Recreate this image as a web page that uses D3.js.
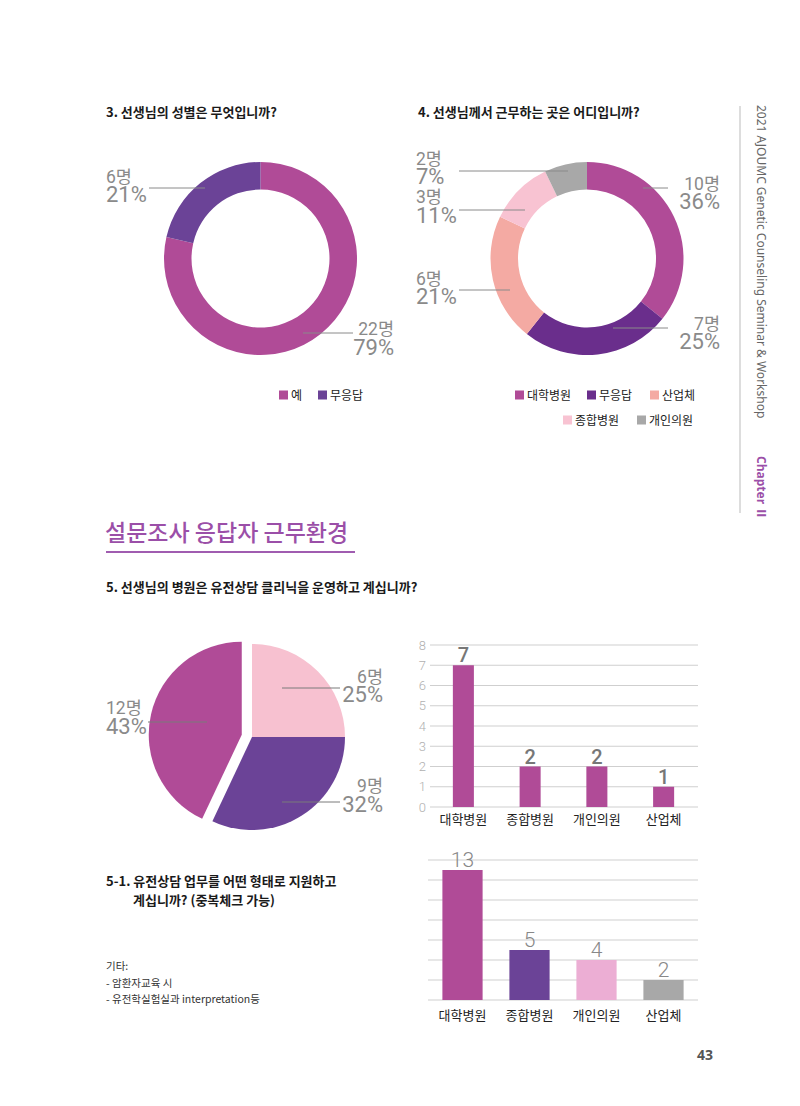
<!DOCTYPE html>
<html><head><meta charset="utf-8">
<script src="https://cdn.jsdelivr.net/npm/d3@7"></script>
<style>
html,body{margin:0;padding:0;background:#fff;}
svg{display:block;font-family:"Noto Sans CJK KR","Noto Sans",sans-serif;}
</style></head>
<body>
<svg id="page" width="800" height="1106"></svg>
<script>
// ---------- DATA ----------
const q3Categories = ["예", "무응답"];
const q3Counts = [22, 6];
const q3Pct = [79, 21];

const q4Categories = ["대학병원", "무응답", "산업체", "종합병원", "개인의원"];
const q4Counts = [10, 7, 6, 3, 2];
const q4Pct = [36, 25, 21, 11, 7];

const q5Slices = ["a", "b", "c"];
const q5Counts = [6, 9, 12];
const q5Pct = [25, 32, 43];

const bar1Categories = ["대학병원", "종합병원", "개인의원", "산업체"];
const bar1Values = [7, 2, 2, 1];
const bar1Ticks = [0, 1, 2, 3, 4, 5, 6, 7, 8];

const bar2Categories = ["대학병원", "종합병원", "개인의원", "산업체"];
const bar2Values = [13, 5, 4, 2];
const bar2Grid = [0, 2, 4, 6, 8, 10, 12, 14];

// ---------- STYLE ----------
const q3Colors = ["#b04b97", "#6b4397"];
const q4Colors = ["#b04b97", "#6a2e8c", "#f4aaa3", "#f8c3d2", "#a8a8a8"];
const q5Colors = ["#f7c1d0", "#6b4397", "#b04b97"];
const bar1Color = "#b04b97";
const bar2Colors = ["#b04b97", "#6b4397", "#ecaed4", "#a8a8a8"];
const labelGray = "#8a8a8a";
const numFont = "Roboto, 'Noto Sans CJK KR', sans-serif";

const svg = d3.select("#page");
svg.append("rect").attr("width", 800).attr("height", 1106).attr("fill", "#fff");

function text(x, y, s, opts = {}) {
  return svg.append("text").attr("x", x).attr("y", y).text(s)
    .attr("font-size", opts.size || 13)
    .attr("font-weight", opts.weight || 400)
    .attr("fill", opts.fill || "#222")
    .attr("text-anchor", opts.anchor || "start")
    .attr("font-family", opts.family || null);
}

// two-line slice label as one text element
function sliceLabel(L, count, pct) {
  const t = svg.append("text").attr("text-anchor", L.anchor)
    .attr("font-family", numFont).attr("font-weight", 400).attr("fill", labelGray);
  t.append("tspan").attr("x", L.x).attr("y", L.y1).attr("font-size", 17.5).text(count + "명");
  t.append("tspan").attr("x", L.x).attr("y", L.y2).attr("font-size", 22).text(pct + "%");
}

// ---------- TITLES ----------
text(106, 117, "3. 선생님의 성별은 무엇입니까?", {size: 13, weight: 700, fill: "#1a1a1a"});
text(418, 117, "4. 선생님께서 근무하는 곳은 어디입니까?", {size: 13, weight: 700, fill: "#1a1a1a"});

// ---------- DONUT helper ----------
function donut(cx, cy, counts, colors, layout, pct) {
  const pie = d3.pie().sort(null).value(d => d)(counts);
  const arc = d3.arc().innerRadius(69).outerRadius(96.5);
  const g = svg.append("g").attr("transform", `translate(${cx},${cy})`);
  g.selectAll("path").data(pie).join("path").attr("d", arc).attr("fill", (d, i) => colors[i]);
  layout.forEach(L => {
    svg.append("line").attr("x1", L.lx1).attr("x2", L.lx2).attr("y1", L.ly).attr("y2", L.ly)
      .attr("stroke", "#8a8a8a").attr("stroke-width", 1);
    sliceLabel(L, counts[L.i], pct[L.i]);
  });
}

donut(260.5, 258.5, q3Counts, q3Colors, [
  {i: 1, x: 106, anchor: "start", y1: 183, y2: 202, ly: 188, lx1: 149, lx2: 205},
  {i: 0, x: 394, anchor: "end", y1: 335, y2: 355, ly: 333, lx1: 303, lx2: 353}
], q3Pct);

donut(587, 258.5, q4Counts, q4Colors, [
  {i: 4, x: 416, anchor: "start", y1: 165, y2: 184, ly: 171, lx1: 459, lx2: 568},
  {i: 3, x: 416, anchor: "start", y1: 203, y2: 223, ly: 210, lx1: 459, lx2: 525},
  {i: 2, x: 416, anchor: "start", y1: 285, y2: 304, ly: 290, lx1: 459, lx2: 510},
  {i: 0, x: 720, anchor: "end", y1: 190, y2: 209, ly: 188, lx1: 643, lx2: 668},
  {i: 1, x: 720, anchor: "end", y1: 330, y2: 349, ly: 328, lx1: 613, lx2: 668}
], q4Pct);

// ---------- LEGENDS ----------
function legend(items) {
  items.forEach(it => {
    svg.append("rect").attr("x", it.x).attr("y", it.y - 4.5).attr("width", 9).attr("height", 9).attr("fill", it.color);
    text(it.x + 12, it.y + 4.5, it.label, {size: 12, fill: "#222"});
  });
}
legend([
  {x: 279, y: 395, color: q3Colors[0], label: q3Categories[0]},
  {x: 318, y: 395, color: q3Colors[1], label: q3Categories[1]}
]);
legend([
  {x: 515, y: 395, color: q4Colors[0], label: q4Categories[0]},
  {x: 587, y: 395, color: q4Colors[1], label: q4Categories[1]},
  {x: 650, y: 395, color: q4Colors[2], label: q4Categories[2]},
  {x: 563, y: 420, color: q4Colors[3], label: q4Categories[3]},
  {x: 637, y: 420, color: q4Colors[4], label: q4Categories[4]}
]);

// ---------- SIDEBAR ----------
svg.append("line").attr("x1", 740).attr("x2", 740).attr("y1", 106).attr("y2", 513).attr("stroke", "#bbb").attr("stroke-width", 1);
svg.append("text").attr("transform", "translate(757,105) rotate(90)")
  .text("2021 AJOUMC Genetic Counseling Seminar & Workshop")
  .attr("font-size", 12).attr("fill", "#666").attr("font-family", "'Noto Sans', sans-serif");
svg.append("text").attr("transform", "translate(757,456) rotate(90)")
  .text("Chapter Ⅱ")
  .attr("font-size", 12).attr("font-weight", 700).attr("fill", "#9b4fa8").attr("font-family", "'Noto Sans', 'Noto Sans CJK KR', sans-serif");

// ---------- SECTION ----------
text(105, 541, "설문조사 응답자 근무환경", {size: 23, fill: "#9b4fa8", weight: 500});
svg.append("line").attr("x1", 106).attr("x2", 355).attr("y1", 552).attr("y2", 552).attr("stroke", "#a05cb0").attr("stroke-width", 2);
text(106, 592, "5. 선생님의 병원은 유전상담 클리닉을 운영하고 계십니까?", {size: 13, weight: 700, fill: "#1a1a1a"});

// ---------- Q5 PIE ----------
(function () {
  const cx = 252, cy = 737, r = 93;
  const pie = d3.pie().sort(null).value(d => d)(q5Pct);
  const arc = d3.arc().innerRadius(0).outerRadius(r);
  const g = svg.append("g").attr("transform", `translate(${cx},${cy})`);
  g.selectAll("path").data(pie).join("path")
    .attr("d", arc).attr("fill", (d, i) => q5Colors[i])
    .attr("transform", (d, i) => {
      if (i !== 2) return null;
      const a = (d.startAngle + d.endAngle) / 2, off = 10.5;
      return `translate(${Math.sin(a) * off},${-Math.cos(a) * off})`;
    });
  const layout = [
    {i: 0, x: 383, anchor: "end", y1: 683, y2: 702, ly: 688, lx1: 282, lx2: 340},
    {i: 1, x: 383, anchor: "end", y1: 792, y2: 812, ly: 802, lx1: 282, lx2: 340},
    {i: 2, x: 106, anchor: "start", y1: 714, y2: 734, ly: 722, lx1: 148, lx2: 207}
  ];
  layout.forEach(L => {
    svg.append("line").attr("x1", L.lx1).attr("x2", L.lx2).attr("y1", L.ly).attr("y2", L.ly)
      .attr("stroke", "#7a7a7a").attr("stroke-width", 1);
    sliceLabel(L, q5Counts[L.i], q5Pct[L.i]);
  });
})();

// ---------- BAR CHART 1 ----------
(function () {
  const x = d3.scaleBand().domain(bar1Categories).range([430, 697]).paddingInner(0.685).paddingOuter(0.3425);
  const y = d3.scaleLinear().domain([0, 8]).range([807, 645]);
  const g = svg.append("g");
  g.selectAll("line.grid").data(bar1Ticks).join("line").attr("class", "grid")
    .attr("x1", 430).attr("x2", 698).attr("y1", d => y(d)).attr("y2", d => y(d))
    .attr("stroke", "#cfcfcf").attr("stroke-width", 1);
  g.selectAll("text.tick").data(bar1Ticks).join("text").attr("class", "tick")
    .attr("x", 426).attr("y", d => y(d)).attr("dy", "0.36em").attr("text-anchor", "end")
    .attr("font-size", 13).attr("fill", "#b0b0b0").attr("font-family", numFont).attr("font-weight", 300).text(d => d);
  g.selectAll("rect").data(bar1Values).join("rect")
    .attr("x", (d, i) => x(bar1Categories[i])).attr("width", x.bandwidth())
    .attr("y", d => y(d)).attr("height", d => y(0) - y(d)).attr("fill", bar1Color);
  g.selectAll("text.val").data(bar1Values).join("text").attr("class", "val")
    .attr("x", (d, i) => x(bar1Categories[i]) + x.bandwidth() / 2).attr("y", d => y(d) - 3)
    .attr("text-anchor", "middle").attr("font-size", 20).attr("font-weight", 500)
    .attr("fill", "#777").attr("font-family", numFont).text(d => d);
  g.selectAll("text.cat").data(bar1Categories).join("text").attr("class", "cat")
    .attr("x", d => x(d) + x.bandwidth() / 2).attr("y", 824)
    .attr("text-anchor", "middle").attr("font-size", 13).attr("fill", "#222").text(d => d);
})();

// ---------- 5-1 TEXT ----------
text(106, 886, "5-1. 유전상담 업무를 어떤 형태로 지원하고", {size: 13, weight: 700, fill: "#1a1a1a"});
text(133, 905, "계십니까? (중복체크 가능)", {size: 13, weight: 700, fill: "#1a1a1a"});
text(106, 970, "기타:", {size: 10.5, fill: "#333"});
text(106, 987, "- 암환자교육 시", {size: 10.5, fill: "#333"});
text(106, 1003, "- 유전학실험실과 interpretation등", {size: 10.5, fill: "#333"});

// ---------- BAR CHART 2 ----------
(function () {
  const x = d3.scaleBand().domain(bar2Categories).range([429, 697]).paddingInner(0.4).paddingOuter(0.2);
  const y = d3.scaleLinear().domain([0, 14]).range([1000, 860]);
  const g = svg.append("g");
  g.selectAll("line.grid").data(bar2Grid).join("line").attr("class", "grid")
    .attr("x1", 428).attr("x2", 698).attr("y1", d => y(d)).attr("y2", d => y(d))
    .attr("stroke", "#cfcfcf").attr("stroke-width", 1);
  g.selectAll("rect").data(bar2Values).join("rect")
    .attr("x", (d, i) => x(bar2Categories[i])).attr("width", x.bandwidth())
    .attr("y", d => y(d)).attr("height", d => y(0) - y(d)).attr("fill", (d, i) => bar2Colors[i]);
  g.selectAll("text.val").data(bar2Values).join("text").attr("class", "val")
    .attr("x", (d, i) => x(bar2Categories[i]) + x.bandwidth() / 2).attr("y", d => y(d) - 3)
    .attr("text-anchor", "middle").attr("font-size", 21).attr("font-weight", 300)
    .attr("fill", "#888").attr("font-family", numFont).text(d => d);
  g.selectAll("text.cat").data(bar2Categories).join("text").attr("class", "cat")
    .attr("x", d => x(d) + x.bandwidth() / 2).attr("y", 1020)
    .attr("text-anchor", "middle").attr("font-size", 13).attr("fill", "#222").text(d => d);
})();

// ---------- PAGE NUMBER ----------
text(697, 1060, "43", {size: 14, weight: 700, fill: "#555", family: "'Noto Sans', sans-serif"});
</script>
</body></html>
